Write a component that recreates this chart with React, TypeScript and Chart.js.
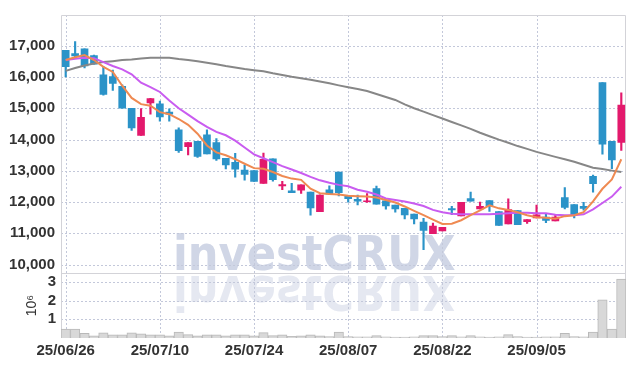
import { useEffect, useRef } from 'react';
import { Chart, registerables } from 'chart.js';

Chart.register(...registerables);

const dates = [
  '25/06/26', '25/06/27', '25/06/30', '25/07/01', '25/07/02', '25/07/03', '25/07/04', '25/07/07', '25/07/08', '25/07/09',
  '25/07/10', '25/07/11', '25/07/14', '25/07/15', '25/07/16', '25/07/17', '25/07/18', '25/07/21', '25/07/22', '25/07/23',
  '25/07/24', '25/07/25', '25/07/28', '25/07/29', '25/07/30', '25/07/31', '25/08/01', '25/08/04', '25/08/05', '25/08/06',
  '25/08/07', '25/08/08', '25/08/11', '25/08/12', '25/08/13', '25/08/14', '25/08/18', '25/08/19', '25/08/20', '25/08/21',
  '25/08/22', '25/08/25', '25/08/26', '25/08/27', '25/08/28', '25/08/29', '25/09/01', '25/09/02', '25/09/03', '25/09/04',
  '25/09/05', '25/09/08', '25/09/09', '25/09/10', '25/09/11', '25/09/12', '25/09/15', '25/09/16', '25/09/17', '25/09/18',
];

const opens = [
  16850, 16750, 16900, 16680, 16070, 16010, 15700, 15000, 14130, 15170,
  15140, 14880, 14310, 13770, 13940, 14150, 13900, 13400, 13270, 13020,
  13010, 12600, 13380, 12520, 12360, 12380, 12320, 11690, 12390, 12960,
  12200, 12090, 12010, 12430, 12040, 11900, 11800, 11620, 11360, 10990,
  11080, 11790, 11560, 12110, 11780, 12050, 11700, 11300, 11730, 11370,
  11490, 11520, 11400, 12140, 11920, 11860, 12820, 15820, 13940, 13910,
];
const highs = [
  16850, 17130, 16900, 16700, 16330, 16220, 15750, 15000, 14990, 15320,
  15230, 14980, 14370, 13900, 13940, 14310, 14030, 13400, 13560, 13180,
  13010, 13570, 13380, 12660, 12600, 12550, 12320, 12230, 12520, 12960,
  12200, 12220, 12270, 12510, 12040, 11900, 11800, 11620, 11480, 11330,
  11190, 11860, 11990, 12320, 12000, 12050, 11700, 12100, 11730, 11440,
  11900, 11620, 11590, 12460, 11920, 11990, 12860, 15820, 13940, 15490,
];
const lows = [
  16000, 16590, 16290, 16410, 15420, 15570, 15000, 14290, 14130, 14810,
  14590, 14590, 13590, 13510, 13430, 13540, 13330, 13060, 12800, 12700,
  12660, 12600, 12670, 12400, 12300, 12280, 11580, 11690, 12250, 12200,
  12000, 11910, 11990, 11930, 11770, 11680, 11460, 11300, 10480, 10990,
  11080, 11600, 11560, 12030, 11780, 11700, 11250, 11300, 11280, 11320,
  11490, 11340, 11400, 11780, 11490, 11740, 12320, 13530, 13070, 13650,
];
const closes = [
  16330, 16670, 16350, 16410, 15440, 15790, 15000, 14370, 14710, 15310,
  14720, 14810, 13640, 13900, 13460, 13540, 13380, 13190, 13050, 12880,
  12660, 13370, 12720, 12560, 12300, 12550, 11810, 12220, 12250, 12300,
  12110, 12030, 12040, 11930, 11880, 11780, 11590, 11460, 11090, 11230,
  11190, 11750, 11990, 12030, 11860, 11880, 11250, 11760, 11280, 11440,
  11590, 11410, 11520, 11830, 11600, 11800, 12590, 13850, 13350, 15100,
];
const volumes = [
  480000, 480000, 250000, 110000, 270000, 170000, 170000, 270000, 220000, 170000,
  170000, 110000, 320000, 180000, 110000, 170000, 170000, 110000, 170000, 170000,
  110000, 290000, 130000, 170000, 90000, 110000, 170000, 110000, 70000, 320000,
  70000, 60000, 60000, 130000, 60000, 50000, 50000, 60000, 130000, 130000,
  70000, 130000, 60000, 130000, 60000, 50000, 60000, 180000, 70000, 50000,
  50000, 60000, 60000, 250000, 70000, 60000, 310000, 2040000, 480000, 3140000,
];
const ma5 = [
  16540, 16630, 16700, 16540, 16320, 16160, 15720, 15330, 15130, 15080,
  14875, 14810, 14655, 14470, 14185, 13810, 13590, 13495, 13370, 13225,
  13085, 13065, 12960, 12835, 12750, 12710, 12425, 12285, 12255, 12240,
  12205, 12190, 12175, 12145, 12065, 11985, 11860, 11720, 11580, 11440,
  11300, 11310, 11420, 11580, 11735, 11895, 11800, 11750, 11675, 11580,
  11515, 11495, 11470, 11550, 11580, 11675, 12020, 12425, 12725, 13370,
];
const ma20 = [
  16540, 16585, 16615, 16600, 16475, 16350, 16240, 16085, 15815, 15675,
  15520, 15250, 15000, 14795, 14590, 14405, 14245, 14135, 13965, 13745,
  13525, 13400, 13275, 13150, 13040, 12930, 12805, 12695, 12615, 12550,
  12505, 12395, 12330, 12240, 12115, 12065, 12020, 11955, 11875, 11750,
  11675, 11625, 11610, 11610, 11610, 11610, 11625, 11640, 11655, 11655,
  11640, 11640, 11595, 11580, 11580, 11610, 11765, 11970, 12175, 12490,
];
const ma60 = [
  16195, 16285, 16365, 16430, 16475, 16505, 16540, 16560, 16590, 16610,
  16615, 16615, 16570, 16540, 16500, 16455, 16405, 16350, 16305, 16255,
  16215, 16180, 16115, 16060, 16005, 15960, 15910, 15855, 15795, 15730,
  15670, 15615, 15550, 15455, 15360, 15265, 15125, 15000, 14890, 14780,
  14670, 14560, 14450, 14340, 14215, 14105, 13995, 13895, 13790, 13700,
  13605, 13525, 13445, 13370, 13290, 13195, 13100, 13055, 13005, 12960,
];
const priceTicks = [10000, 11000, 12000, 13000, 14000, 15000, 16000, 17000];
const volumeTicks = [1000000, 2000000, 3000000];
const WATERMARK = 'investCRUX';

const UP = '#e3196c';
const DOWN = '#2b93c8';
const GRID = '#c3c8da';
const TICK_FONT = { family: '"Liberation Sans Narrow", "Liberation Sans", sans-serif', size: 15, weight: 'bold' as const };

const watermarkPlugin = {
  id: 'watermark',
  beforeDraw(chart: any) {
    const { ctx } = chart;
    const sep = chart.scales.y.bottom;
    const x = chart.chartArea.left + 112;
    ctx.save();
    ctx.font = 'bold 48px "DejaVu Sans Condensed", "DejaVu Sans", sans-serif';
    ctx.textAlign = 'left';
    ctx.textBaseline = 'alphabetic';
    ctx.fillStyle = '#d0d6e6';
    ctx.fillText(WATERMARK, x, sep - 3);
    ctx.translate(0, 2 * sep);
    ctx.scale(1, -1);
    ctx.fillStyle = '#e5e8f1';
    ctx.fillText(WATERMARK, x, sep - 3);
    ctx.restore();
  },
};

const gridPlugin = {
  id: 'dottedGrid',
  beforeDatasetsDraw(chart: any) {
    const { ctx, chartArea: a } = chart;
    const { x, y, yv } = chart.scales;
    ctx.save();
    ctx.strokeStyle = GRID;
    ctx.lineWidth = 1;
    ctx.setLineDash([2, 2]);
    ctx.beginPath();
    for (const s of [y, yv]) {
      for (const t of s.ticks) {
        const py = Math.round(s.getPixelForValue(t.value)) + 0.5;
        ctx.moveTo(a.left, py);
        ctx.lineTo(a.right, py);
      }
    }
    dates.forEach((_, i) => {
      if (i % 10 !== 0) return;
      const px = Math.round(x.getPixelForValue(i)) + 0.5;
      ctx.moveTo(px, a.top);
      ctx.lineTo(px, a.bottom);
    });
    ctx.stroke();
    ctx.setLineDash([]);
    const sep = Math.round(y.bottom) + 0.5;
    ctx.strokeStyle = '#d3d3d8';
    ctx.beginPath();
    ctx.rect(Math.round(a.left) + 0.5, Math.round(a.top) + 0.5, Math.round(a.width) - 1, Math.round(a.height) - 1);
    ctx.moveTo(a.left, sep);
    ctx.lineTo(a.right, sep);
    ctx.stroke();
    ctx.restore();
  },
};

export default function App() {
  const ref = useRef<HTMLCanvasElement | null>(null);

  useEffect(() => {
    if (!ref.current) return;
    const colors = dates.map((_, i) => (closes[i] >= opens[i] ? UP : DOWN));
    const chart = new Chart(ref.current, {
      type: 'bar',
      data: {
        labels: dates,
        datasets: [
          { type: 'line', label: 'MA5', data: ma5, borderColor: '#ef8a52', borderWidth: 2, pointRadius: 0, yAxisID: 'y', order: 0 } as any,
          { type: 'line', label: 'MA20', data: ma20, borderColor: '#c95cf0', borderWidth: 2, pointRadius: 0, yAxisID: 'y', order: 0 } as any,
          { type: 'line', label: 'MA60', data: ma60, borderColor: '#878787', borderWidth: 2, pointRadius: 0, yAxisID: 'y', order: 0 } as any,
          {
            label: 'body',
            data: dates.map((_, i) => [Math.min(opens[i], closes[i]), Math.max(opens[i], closes[i])]),
            backgroundColor: colors,
            barThickness: 7,
            grouped: false,
            yAxisID: 'y',
            order: 1,
          } as any,
          {
            label: 'wick',
            data: dates.map((_, i) => [lows[i], highs[i]]),
            backgroundColor: colors,
            barThickness: 1.5,
            grouped: false,
            yAxisID: 'y',
            order: 2,
          } as any,
          {
            label: 'volume',
            data: volumes,
            backgroundColor: '#d8d8d8',
            borderColor: '#b9b9b9',
            borderWidth: 1,
            barPercentage: 1,
            categoryPercentage: 1,
            grouped: false,
            yAxisID: 'yv',
            order: 3,
          } as any,
        ],
      },
      options: {
        animation: false,
        responsive: true,
        maintainAspectRatio: false,
        layout: { padding: { top: 9, right: 8, left: 0, bottom: 0 } },
        plugins: { legend: { display: false }, tooltip: { enabled: false } },
        scales: {
          x: {
            type: 'category',
            offset: true,
            border: { display: false },
            grid: { display: false, offset: false, drawTicks: false },
            ticks: {
              autoSkip: false,
              maxRotation: 0,
              padding: 4,
              color: '#333',
              font: TICK_FONT,
              callback: (_v: any, i: number) => (i % 10 === 0 ? dates[i] : ''),
            },
            afterFit: (s: any) => { s.height = 28; },
          },
          yv: {
            type: 'linear',
            position: 'left',
            stack: 'panes',
            stackWeight: 1,
            min: 0,
            max: 3450000,
            border: { display: false },
            grid: { display: false, drawTicks: false },
            ticks: {
              autoSkip: false,
              padding: 5,
              color: '#333',
              font: TICK_FONT,
              callback: (v: any) => String(Number(v) / 1000000),
            },
            afterBuildTicks: (s: any) => { s.ticks = volumeTicks.map((value) => ({ value })); },
            afterFit: (s: any) => { s.width = 61; },
            title: {
              display: true,
              text: '10⁶',
              color: '#333',
              font: { family: '"Liberation Sans Narrow", "Liberation Sans", sans-serif', size: 14 },
              padding: { top: 24, bottom: 0 },
            },
          },
          y: {
            type: 'linear',
            position: 'left',
            stack: 'panes',
            stackWeight: 4,
            min: 9720,
            max: 17980,
            border: { display: false },
            grid: { display: false, drawTicks: false },
            ticks: {
              autoSkip: false,
              padding: 6,
              color: '#333',
              font: TICK_FONT,
              callback: (v: any) => Number(v).toLocaleString('en-US'),
            },
            afterBuildTicks: (s: any) => { s.ticks = priceTicks.map((value) => ({ value })); },
            afterFit: (s: any) => { s.width = 61; },
          },
        },
      } as any,
      plugins: [watermarkPlugin, gridPlugin],
    });
    return () => chart.destroy();
  }, []);

  return (
    <div style={{ position: 'fixed', left: 0, top: 0, width: 634, height: 366, background: '#fff' }}>
      <canvas ref={ref} />
    </div>
  );
}
